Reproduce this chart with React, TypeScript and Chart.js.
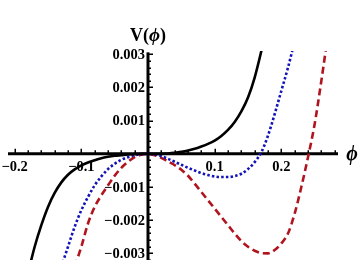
import React, { useEffect, useRef } from "react";
import { Chart, registerables } from "chart.js";

Chart.register(...registerables);

// ---- data (phi, V(phi)) ----
const blackPhi = [-0.18, -0.17, -0.16, -0.15, -0.14, -0.13, -0.12, -0.11, -0.1, -0.09, -0.08, -0.07, -0.06, -0.05, -0.04, -0.03, -0.02, -0.01, 0, 0.01, 0.02, 0.03, 0.04, 0.05, 0.06, 0.07, 0.08, 0.09, 0.1, 0.11, 0.12, 0.13, 0.14, 0.15, 0.16, 0.17, 0.18];
const blackV = [-0.0036, -0.0028, -0.00215, -0.0016, -0.00118, -0.00086, -0.00063, -0.00047, -0.00035, -0.00026, -0.00019, -0.00013, -0.00009, -0.00006, -0.00004, -0.00002, -0.00001, 0, 0, 0, 0, 0.00001, 0.00003, 0.00006, 0.0001, 0.00015, 0.00022, 0.0003, 0.0004, 0.00054, 0.00072, 0.00096, 0.00128, 0.0017, 0.0023, 0.0031, 0.004];

const bluePhi = [-0.13, -0.12, -0.11, -0.1, -0.09, -0.08, -0.07, -0.06, -0.05, -0.04, -0.03, -0.02, -0.01, 0, 0.01, 0.02, 0.03, 0.04, 0.05, 0.06, 0.07, 0.08, 0.09, 0.1, 0.11, 0.12, 0.13, 0.14, 0.15, 0.16, 0.17, 0.18, 0.19, 0.2, 0.21, 0.22];
const blueV = [-0.0034, -0.0028, -0.0022, -0.0017, -0.0013, -0.00095, -0.00068, -0.00046, -0.0003, -0.00018, -0.0001, -0.00004, -0.00001, 0, -0.00002, -0.00007, -0.00015, -0.00024, -0.00033, -0.00042, -0.0005, -0.00058, -0.00064, -0.00068, -0.0007, -0.0007, -0.00067, -0.0006, -0.00046, -0.00025, 0.00005, 0.00055, 0.0012, 0.0019, 0.0026, 0.0034];

const redPhi = [-0.11, -0.1, -0.09, -0.08, -0.07, -0.06, -0.05, -0.04, -0.03, -0.02, -0.01, 0, 0.01, 0.02, 0.03, 0.04, 0.05, 0.06, 0.07, 0.08, 0.09, 0.1, 0.11, 0.12, 0.13, 0.14, 0.15, 0.16, 0.17, 0.18, 0.19, 0.2, 0.21, 0.22, 0.23, 0.24, 0.25, 0.26, 0.27];
const redV = [-0.0034, -0.0028, -0.0021, -0.0016, -0.00125, -0.00095, -0.00066, -0.00042, -0.00024, -0.0001, -0.00003, 0, -0.00004, -0.00012, -0.00023, -0.00034, -0.00048, -0.00066, -0.0009, -0.00115, -0.0014, -0.00165, -0.0019, -0.00215, -0.0024, -0.00263, -0.0028, -0.00292, -0.00299, -0.003, -0.0029, -0.0027, -0.0024, -0.0018, -0.001, -0.0001, 0.0009, 0.0022, 0.0036];

const xTickLabels = ["\u22120.2", "\u22120.1", "0.1", "0.2"];
const xTickValues = [-0.2, -0.1, 0.1, 0.2];
const yTickLabels = ["0.003", "0.002", "0.001", "\u22120.001", "\u22120.002", "\u22120.003"];
const yTickValues = [0.003, 0.002, 0.001, -0.001, -0.002, -0.003];

const X_MIN = -0.21;
const X_MAX = 0.285;
const Y_MIN = -0.0032;
const Y_MAX = 0.0031;
const Y_AXIS_TOP = 0.00306;

const FONT = '"Liberation Serif", "Times New Roman", serif';

const axesPlugin = {
  id: "mmaAxes",
  beforeDatasetsDraw(chart: any) {
    const { ctx, scales } = chart;
    const x = scales.x;
    const y = scales.y;
    const x0 = x.getPixelForValue(0);
    const y0 = y.getPixelForValue(0);
    ctx.save();
    ctx.strokeStyle = "#000";
    ctx.lineCap = "butt";
    ctx.lineWidth = 3;
    ctx.beginPath();
    ctx.moveTo(x.left, y0);
    ctx.lineTo(x.right, y0);
    ctx.stroke();
    ctx.beginPath();
    ctx.moveTo(x0, y.getPixelForValue(Y_AXIS_TOP));
    ctx.lineTo(x0, y.bottom);
    ctx.stroke();

    // x ticks (upwards)
    ctx.lineWidth = 1.5;
    for (let i = -10; i <= 14; i++) {
      if (i === 0) continue;
      const v = i * 0.02;
      const px = Math.round(x.getPixelForValue(v)) + 0.25;
      const major = i % 5 === 0;
      ctx.beginPath();
      ctx.moveTo(px, y0);
      ctx.lineTo(px, y0 - (major ? 5 : 3.5));
      ctx.stroke();
    }
    // y ticks (rightwards)
    for (let i = -16; i <= 15; i++) {
      if (i === 0) continue;
      const v = i * 0.0002;
      const py = Math.round(y.getPixelForValue(v)) + 0.25;
      const major = i % 5 === 0;
      ctx.beginPath();
      ctx.moveTo(x0, py);
      ctx.lineTo(x0 + (major ? 5 : 3), py);
      ctx.stroke();
    }

    // tick labels
    ctx.fillStyle = "#000";
    ctx.font = `bold 14.5px ${FONT}`;
    ctx.textAlign = "center";
    ctx.textBaseline = "top";
    xTickValues.forEach((v, i) => {
      ctx.fillText(xTickLabels[i], x.getPixelForValue(v), y0 + 6);
    });
    ctx.textAlign = "right";
    ctx.textBaseline = "middle";
    yTickValues.forEach((v, i) => {
      ctx.fillText(yTickLabels[i], x0 - 3, y.getPixelForValue(v) + 1);
    });

    // axis labels
    const phiItalic = `italic bold 19px ${FONT}`;
    const upright = `bold 18px ${FONT}`;
    ctx.textBaseline = "alphabetic";
    ctx.textAlign = "left";
    ctx.font = upright;
    const wV = ctx.measureText("V(").width;
    const wR = ctx.measureText(")").width;
    ctx.font = phiItalic;
    const wP = ctx.measureText("\u03D5").width;
    const total = wV + wP + wR;
    let sx = x0 - total / 2;
    const by = 41;
    ctx.font = upright;
    ctx.fillText("V(", sx, by);
    sx += wV;
    ctx.font = phiItalic;
    ctx.fillText("\u03D5", sx, by);
    sx += wP;
    ctx.font = upright;
    ctx.fillText(")", sx, by);

    ctx.font = `italic bold 20px ${FONT}`;
    ctx.textAlign = "center";
    ctx.textBaseline = "middle";
    ctx.fillText("\u03D5", x.right + 14, y0 + 1);
    ctx.restore();
  },
};

const toPts = (xs: number[], ys: number[]) => xs.map((p, i) => ({ x: p, y: ys[i] }));

export default function App() {
  const ref = useRef<HTMLCanvasElement | null>(null);
  useEffect(() => {
    if (!ref.current) return;
    const chart = new Chart(ref.current, {
      type: "scatter",
      data: {
        datasets: [
          {
            data: toPts(blackPhi, blackV),
            showLine: true,
            borderColor: "#000000",
            borderWidth: 2.6,
            pointRadius: 0,
            cubicInterpolationMode: "monotone",
          },
          {
            data: toPts(bluePhi, blueV),
            showLine: true,
            borderColor: "#1212b8",
            borderWidth: 2.6,
            borderDash: [2.5, 2.2],
            pointRadius: 0,
            cubicInterpolationMode: "monotone",
          },
          {
            data: toPts(redPhi, redV),
            showLine: true,
            borderColor: "#b0141e",
            borderWidth: 2.6,
            borderDash: [7, 4],
            pointRadius: 0,
            cubicInterpolationMode: "monotone",
          },
        ],
      } as any,
      options: {
        animation: false,
        responsive: false,
        events: [],
        layout: { padding: { left: 8, right: 22, top: 51, bottom: 0 } },
        plugins: { legend: { display: false }, tooltip: { enabled: false } },
        scales: {
          x: { type: "linear", min: X_MIN, max: X_MAX, display: false },
          y: { type: "linear", min: Y_MIN, max: Y_MAX, display: false },
        },
      } as any,
      plugins: [axesPlugin],
    });
    return () => chart.destroy();
  }, []);
  return (
    <div style={{ position: "fixed", left: 0, top: 0, width: 360, height: 260, background: "#fff" }}>
      <canvas ref={ref} width={360} height={260} style={{ display: "block" }} />
    </div>
  );
}
